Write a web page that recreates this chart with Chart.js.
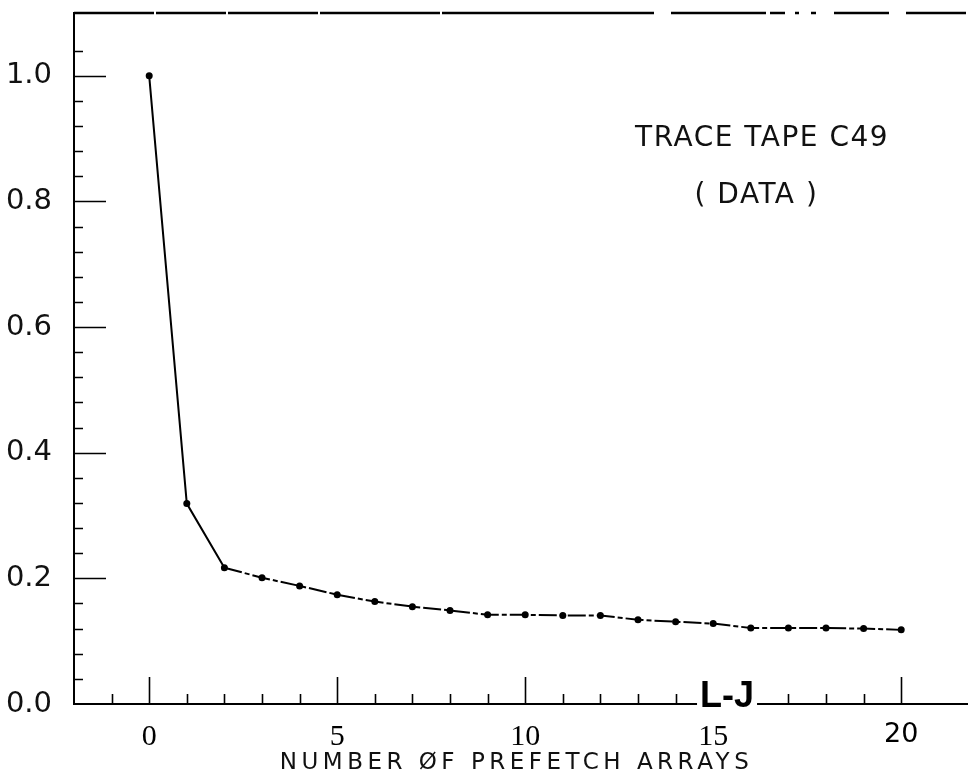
<!DOCTYPE html>
<html>
<head>
<meta charset="utf-8">
<title>Trace tape C49 - prefetch arrays</title>
<script src="https://cdn.jsdelivr.net/npm/chart.js@4.4.1/dist/chart.umd.min.js"></script>
<style>
  html, body { margin: 0; padding: 0; background: #fff; overflow: hidden; }
  canvas { display: block; }
</style>
</head>
<body>
<canvas id="missChart" width="971" height="783"></canvas>
<script>
// miss ratio against number of prefetch arrays
const prefetchArrays = [0, 1, 2, 3, 4, 5, 6, 7, 8, 9, 10, 11, 12, 13, 14, 15, 16, 17, 18, 19, 20];
const missRatio = [1.0, 0.319, 0.217, 0.201, 0.188, 0.174, 0.163, 0.155, 0.149, 0.142, 0.142,
                   0.141, 0.141, 0.134, 0.131, 0.128, 0.121, 0.121, 0.121, 0.120, 0.118];
const xTickLabels = ['0', '5', '10', '15', '20'];
const yTickLabels = ['0.0', '0.2', '0.4', '0.6', '0.8', '1.0'];
const xAxisTitle = 'NUMBER ØF PREFETCH ARRAYS';
const noteLines = ['TRACE TAPE C49', '( DATA )'];
const stampText = 'L-J';

const plotterFont = '"DejaVu Sans", "Liberation Sans", sans-serif';

// broken pen stroke along the top of the frame
const topEdgeDash = [80, 2, 70, 2, 90, 2, 120, 2, 212, 17, 95, 4, 15, 10, 4, 12, 5, 18, 55, 17, 60, 40];

// inward tick marks, top edge, the axis title and the notes in the upper right
const plotterMarks = {
    id: 'plotterMarks',
    afterDatasetsDraw(chart) {
        const {ctx, chartArea, scales: {x, y}} = chart;
        ctx.save();
        ctx.strokeStyle = '#000';

        ctx.lineWidth = 2.5;
        ctx.setLineDash(topEdgeDash);
        ctx.beginPath();
        ctx.moveTo(chartArea.left, chartArea.top);
        ctx.lineTo(chartArea.right, chartArea.top);
        ctx.stroke();
        ctx.setLineDash([]);

        ctx.lineWidth = 1.6;
        ctx.beginPath();
        y.ticks.forEach(t => {
            if (t.value <= 0 || t.value >= y.max) return;
            const py = Math.round(y.getPixelForValue(t.value)) + 0.5;
            ctx.moveTo(chartArea.left, py);
            ctx.lineTo(chartArea.left + (t.label ? 32 : 9), py);
        });
        x.ticks.forEach(t => {
            if (!Number.isInteger(t.value) || t.value <= x.min) return;
            const px = Math.round(x.getPixelForValue(t.value)) + 0.5;
            ctx.moveTo(px, chartArea.bottom);
            ctx.lineTo(px, chartArea.bottom - (t.label ? 27 : 10));
        });
        ctx.stroke();

        // stamp sitting on the axis next to 15
        ctx.font = 'bold 36px "Liberation Sans", Arial, sans-serif';
        ctx.textAlign = 'left';
        ctx.textBaseline = 'alphabetic';
        const sx = x.getPixelForValue(14.65);
        const sw = ctx.measureText(stampText).width;
        ctx.fillStyle = '#fff';
        ctx.fillRect(sx - 3, chartArea.bottom - 30, sw + 6, 33);
        ctx.fillStyle = '#000';
        ctx.fillText(stampText, sx, chartArea.bottom + 3);

        ctx.textAlign = 'center';
        ctx.textBaseline = 'middle';
        ctx.fillStyle = '#111';
        if ('letterSpacing' in ctx) ctx.letterSpacing = '1.5px';
        ctx.font = '28px ' + plotterFont;
        ctx.fillText(noteLines[0], x.getPixelForValue(16.3), y.getPixelForValue(0.9));
        ctx.fillText(noteLines[1], x.getPixelForValue(16.15), y.getPixelForValue(0.809));

        if ('letterSpacing' in ctx) ctx.letterSpacing = '4.5px';
        ctx.font = '23px ' + plotterFont;
        ctx.fillText(xAxisTitle, (chartArea.left + chartArea.right) / 2 - 4, chart.height - 20);
        ctx.restore();
    }
};

// the frame is fixed, so drop the edge padding Chart.js keeps for labels
const noEdgePadding = s => {
    s.paddingLeft = 0;
    s.paddingRight = 0;
    s.paddingTop = 0;
    s.paddingBottom = 0;
};

const points = prefetchArrays.map((n, i) => ({x: n, y: missRatio[i]}));

const ctx = document.getElementById('missChart').getContext('2d');
const missChart = new Chart(ctx, {
    type: 'line',
    data: {
        datasets: [{
            label: 'Miss ratio',
            data: points,
            borderColor: '#000',
            backgroundColor: '#000',
            borderWidth: 2,
            pointRadius: 3.5,
            pointBorderWidth: 0,
            pointBackgroundColor: '#000',
            tension: 0,
            fill: false,
            segment: {
                borderDash: c => c.p0DataIndex >= 2 ? [18, 3, 5, 3] : undefined
            }
        }]
    },
    options: {
        responsive: false,
        animation: false,
        events: [],
        layout: {
            padding: {top: 13, right: 0, left: 0, bottom: 0}
        },
        plugins: {
            legend: {display: false},
            tooltip: {enabled: false}
        },
        scales: {
            x: {
                type: 'linear',
                position: 'bottom',
                min: -2,
                max: 21.75,
                grid: {display: false, drawTicks: false},
                border: {display: true, color: '#000', width: 2},
                ticks: {
                    stepSize: 1,
                    autoSkip: false,
                    maxRotation: 0,
                    maxTicksLimit: 100,
                    padding: 15,
                    color: '#000',
                    font: c => (c.tick && c.tick.value === 20)
                        ? {family: plotterFont, size: 27}
                        : {family: '"Liberation Serif", "DejaVu Serif", serif', size: 30},
                    callback: v => xTickLabels.includes(String(v)) ? String(v) : ''
                },
                afterFit: s => { s.height = 79; noEdgePadding(s); }
            },
            y: {
                type: 'linear',
                min: 0,
                max: 1.1,
                grid: {display: false, drawTicks: false},
                border: {display: true, color: '#000', width: 2},
                ticks: {
                    stepSize: 0.04,
                    autoSkip: false,
                    maxTicksLimit: 100,
                    padding: 22,
                    color: '#111',
                    font: {family: plotterFont, size: 29},
                    callback: v => {
                        const s = v.toFixed(1);
                        const onFifth = Math.abs(v * 5 - Math.round(v * 5)) < 1e-6;
                        return onFifth && yTickLabels.includes(s) ? s : '';
                    }
                },
                afterFit: s => { s.width = 74; noEdgePadding(s); }
            }
        }
    },
    plugins: [plotterMarks]
});
</script>
</body>
</html>
